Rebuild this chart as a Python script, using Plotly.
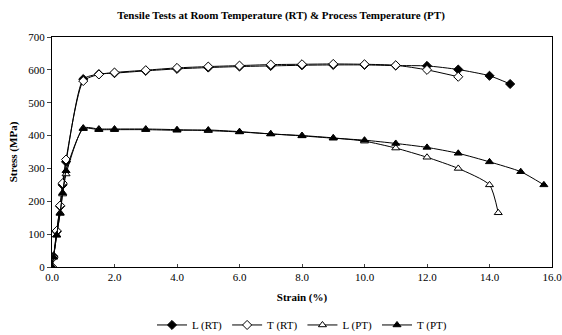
import plotly.graph_objects as go

# Strain (%) values
x_lrt = [0, 0.05, 0.15, 0.26, 0.34, 0.45, 1.0, 1.5, 2, 3, 4, 5, 6, 7, 8, 9, 10, 11, 12, 13, 14, 14.66]
y_lrt = [0, 32, 108, 185, 250, 320, 572, 587, 590, 597, 603, 607, 610, 612, 614, 615, 615, 613, 612, 601, 582, 557]

x_trt = [0, 0.05, 0.15, 0.26, 0.34, 0.45, 1.0, 1.5, 2, 3, 4, 5, 6, 7, 8, 9, 10, 11, 12, 13]
y_trt = [0, 30, 110, 187, 255, 327, 566, 586, 592, 599, 606, 610, 613, 616, 617, 618, 617, 614, 600, 579]

x_lpt = [0, 0.05, 0.15, 0.26, 0.34, 0.45, 1.0, 1.5, 2, 3, 4, 5, 6, 7, 8, 9, 10, 11, 12, 13, 14, 14.28]
y_lpt = [0, 30, 97, 165, 222, 283, 423, 420, 420, 420, 418, 415, 411, 405, 400, 393, 383, 362, 334, 300, 250, 165]

x_tpt = [0, 0.05, 0.15, 0.26, 0.34, 0.45, 1.0, 1.5, 2, 3, 4, 5, 6, 7, 8, 9, 10, 11, 12, 13, 14, 15, 15.74]
y_tpt = [0, 30, 97, 163, 226, 293, 421, 418, 418, 418, 416, 417, 412, 405, 399, 392, 386, 376, 364, 346, 320, 290, 250]

series = [
    ("L (RT)", x_lrt, y_lrt, "diamond", "black"),
    ("T (RT)", x_trt, y_trt, "diamond", "white"),
    ("L (PT)", x_lpt, y_lpt, "triangle-up", "white"),
    ("T (PT)", x_tpt, y_tpt, "triangle-up", "black"),
]

fig = go.Figure()
for name, xs, ys, sym, fill in series:
    fig.add_trace(go.Scatter(
        x=xs, y=ys, name=name, mode="lines+markers",
        line=dict(color="black", width=1, shape="spline", smoothing=0.6),
        marker=dict(symbol=sym, size=7, color=fill, line=dict(color="black", width=1)),
    ))

font = "Liberation Serif"
tf = dict(family=font, size=11, color="black")
fig.update_layout(
    width=562, height=335,
    margin=dict(l=52, r=10, t=37, b=68, autoexpand=False),
    paper_bgcolor="white", plot_bgcolor="white",
    font=tf,
    title=dict(text="<b>Tensile Tests at Room Temperature (RT) & Process Temperature (PT)</b>",
               x=0.5, xanchor="center", y=0.955, yanchor="middle",
               font=dict(family=font, size=11, color="black")),
    showlegend=True,
    legend=dict(orientation="h", x=0.5, xanchor="center", y=-0.252, yanchor="middle",
                font=tf, itemwidth=30, tracegroupgap=0,
                bgcolor="rgba(0,0,0,0)"),
)
fig.update_xaxes(
    range=[0, 16], dtick=2, tickformat=".1f", ticks="inside", ticklen=3,
    tickfont=tf, ticklabeloverflow="allow",
    showline=True, linecolor="black", linewidth=1, mirror=True,
    showgrid=False, zeroline=False,
    title=dict(text="<b>Strain (%)</b>", font=tf, standoff=11),
)
fig.update_yaxes(
    range=[0, 700], dtick=100, ticks="outside", ticklen=4,
    tickfont=tf,
    showline=True, linecolor="black", linewidth=1, mirror=True,
    showgrid=False, zeroline=False,
    title=dict(text="<b>Stress (MPa)</b>", font=tf, standoff=8),
)

fig.write_html("out.html")
